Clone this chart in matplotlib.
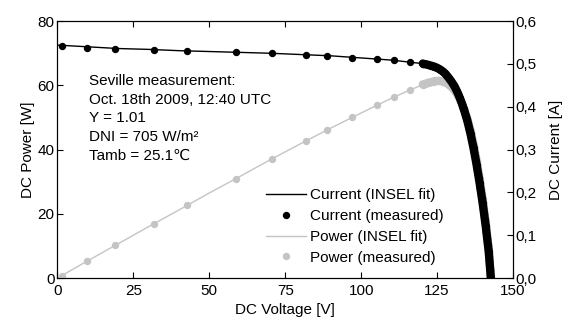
import matplotlib
matplotlib.use("Agg")
import matplotlib.pyplot as plt
from matplotlib.ticker import FuncFormatter
from matplotlib.lines import Line2D

plt.rcParams['font.family'] = ['Liberation Sans', 'DejaVu Sans']
plt.rcParams['font.size'] = 11

# INSEL fit (voltage V, current A, power W)
fit_v = [0, 10, 20, 30, 40, 50, 60, 70, 80, 90, 100, 110, 115, 120, 122, 124, 125, 126,
         127, 128, 129, 130, 131, 132, 133, 134, 135, 136, 137, 138, 139, 140, 141, 142, 142.7]
fit_i = [0.544, 0.540, 0.536, 0.534, 0.531, 0.529, 0.527, 0.525, 0.522, 0.519, 0.514, 0.509,
         0.505, 0.501, 0.498, 0.494, 0.491, 0.487, 0.482, 0.475, 0.466, 0.456, 0.444, 0.429,
         0.411, 0.390, 0.366, 0.337, 0.303, 0.265, 0.222, 0.175, 0.122, 0.062, 0.0]
fit_p = [0.0, 5.4, 10.7, 16.0, 21.2, 26.5, 31.6, 36.8, 41.8, 46.7, 51.4, 56.0,
         58.1, 60.1, 60.8, 61.3, 61.4, 61.4, 61.2, 60.8, 60.1, 59.3, 58.2, 56.6,
         54.7, 52.3, 49.4, 45.8, 41.5, 36.6, 30.9, 24.5, 17.2, 8.8, 0.0]

# measured points, slow part of the sweep
meas_v = [1.5, 9.8, 19.0, 31.7, 42.6, 58.7, 70.5, 82.0, 88.8, 97.0, 105.2, 110.9, 116.0]
meas_i = [0.542, 0.538, 0.535, 0.532, 0.530, 0.527, 0.525, 0.521, 0.518, 0.515, 0.511, 0.509,
          0.505]
meas_p = [0.8, 5.3, 10.2, 16.9, 22.6, 30.9, 37.0, 42.7, 46.0, 50.0, 53.8, 56.4, 58.6]

# measured points, dense part near the knee (they merge into a band)
dense_v = [120.3, 120.5, 121, 121.5, 122, 122.5, 123, 123.5, 124, 124.5, 125, 125.5, 126,
           126.5, 127, 127.5, 128, 128.5, 129, 129.5, 130, 130.5, 131, 131.5, 132, 132.5,
           133, 133.25, 133.5, 133.75, 134, 134.25, 134.5, 134.75, 135, 135.25, 135.5,
           135.75, 136, 136.25, 136.5, 136.75, 137, 137.25, 137.5, 137.75, 138, 138.25,
           138.5, 138.75, 139, 139.25, 139.5, 139.75, 140, 140.25, 140.5, 140.75, 141,
           141.25, 141.5, 141.75, 142, 142.25, 142.5, 142.7]
dense_i = [0.501, 0.500, 0.4995, 0.499, 0.498, 0.497, 0.496, 0.495, 0.494, 0.4925,
           0.491, 0.489, 0.487, 0.4845, 0.482, 0.4785, 0.475, 0.4705, 0.466, 0.461, 0.456,
           0.450, 0.444, 0.4365, 0.429, 0.420, 0.411, 0.406, 0.4005, 0.395, 0.390, 0.384,
           0.378, 0.372, 0.366, 0.359, 0.3515, 0.344, 0.337, 0.3285, 0.320, 0.3115, 0.303,
           0.2935, 0.284, 0.2745, 0.265, 0.254, 0.2435, 0.233, 0.222, 0.210, 0.1985, 0.187,
           0.175, 0.162, 0.1485, 0.135, 0.122, 0.107, 0.092, 0.077, 0.062, 0.040, 0.018, 0.0]
dense_p = [60.3, 60.25, 60.4, 60.6, 60.8, 60.9, 61.0, 61.1, 61.3, 61.3, 61.4, 61.4, 61.4,
           61.3, 61.2, 61.0, 60.8, 60.5, 60.1, 59.7, 59.3, 58.7, 58.2, 57.4, 56.6, 55.7,
           54.7, 54.1, 53.5, 52.8, 52.3, 51.6, 50.8, 50.1, 49.4, 48.6, 47.6, 46.7, 45.8,
           44.8, 43.7, 42.6, 41.5, 40.3, 39.1, 37.8, 36.6, 35.1, 33.7, 32.3, 30.9, 29.2,
           27.7, 26.1, 24.5, 22.7, 20.9, 19.0, 17.2, 15.1, 13.0, 10.9, 8.8, 5.7, 2.6, 0.0]

info = ("Seville measurement:\nOct. 18th 2009, 12:40 UTC\nY = 1.01\n"
        "DNI = 705 W/m\u00b2\nTamb = 25.1\u2103")

gray = '#c4c4c4'
ms = 5.3

fig, ax = plt.subplots(figsize=(5.66, 3.2), dpi=100)
fig.subplots_adjust(left=0.1015, right=0.9064, top=0.934, bottom=0.131)
ax2 = ax.twinx()

# power on the left axis
ax.plot(fit_v, fit_p, color=gray, lw=1.0, zorder=2)
ax.plot(meas_v, meas_p, 'o', color=gray, ms=ms, mec='none', zorder=3)
ax.plot(dense_v, dense_p, 'o-', color=gray, ms=ms, lw=6.0, mec='none',
        solid_capstyle='round', zorder=3)

# current on the right axis, drawn above power
ax2.plot(fit_v, fit_i, color='black', lw=1.0, zorder=2)
ax2.plot(meas_v, meas_i, 'o', color='black', ms=ms, mec='none', zorder=3)
ax2.plot(dense_v, dense_i, 'o-', color='black', ms=ms, lw=6.0, mec='none',
         solid_capstyle='round', zorder=3)

ax.set_xlim(0, 150)
ax.set_ylim(0, 80)
ax2.set_ylim(0, 0.6)
ax.set_xticks([0, 25, 50, 75, 100, 125, 150])
ax.set_yticks([0, 20, 40, 60, 80])
ax2.set_yticks([0, 0.1, 0.2, 0.3, 0.4, 0.5, 0.6])
ax2.yaxis.set_major_formatter(FuncFormatter(lambda v, p: f"{v:.1f}".replace('.', ',')))

ax.tick_params(direction='in', length=4, top=True, labelsize=11, pad=2)
ax.tick_params(axis='x', pad=4)
ax2.tick_params(direction='in', length=4, labelsize=11, pad=2)

ax.set_xlabel("DC Voltage [V]", fontsize=11, labelpad=4)
ax.set_ylabel("DC Power [W]", fontsize=11, labelpad=2)
ax2.set_ylabel("DC Current [A]", fontsize=11, labelpad=9)

ax.text(0.07, 0.795, info, transform=ax.transAxes, va='top', ha='left',
        fontsize=11, linespacing=1.44)

handles = [Line2D([], [], color='black', lw=1.0),
           Line2D([], [], marker='o', ls='none', color='black', ms=ms, mec='none'),
           Line2D([], [], color=gray, lw=1.0),
           Line2D([], [], marker='o', ls='none', color=gray, ms=ms, mec='none')]
labels = ["Current (INSEL fit)", "Current (measured)", "Power (INSEL fit)", "Power (measured)"]
ax2.legend(handles, labels, loc='upper left', bbox_to_anchor=(0.458, 0.35),
           frameon=False, fontsize=11, handlelength=2.6, handletextpad=0.3,
           labelspacing=0.45, borderpad=0, borderaxespad=0)

fig.savefig("out.png", dpi=100)
